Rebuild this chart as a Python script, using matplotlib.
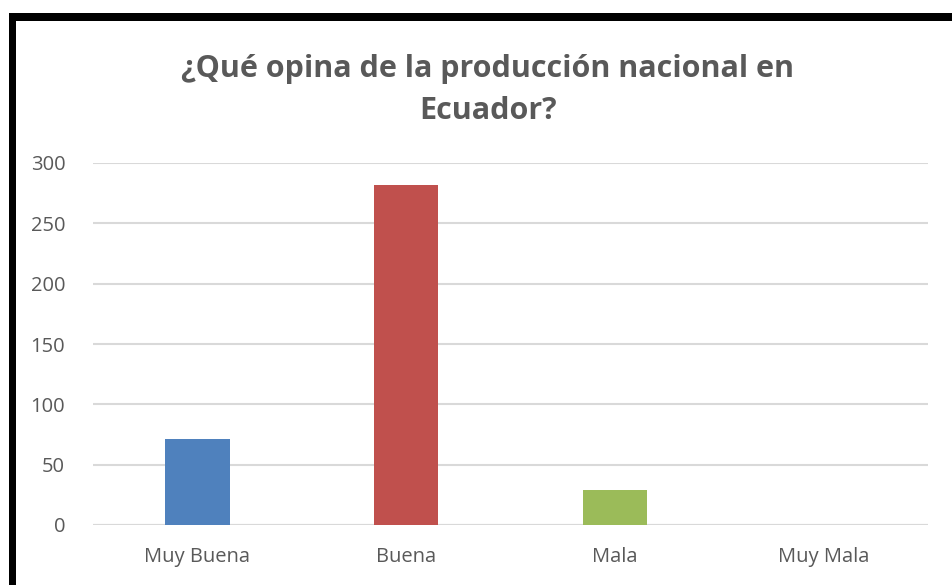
import matplotlib
matplotlib.use('Agg')
import matplotlib.pyplot as plt
from matplotlib.patches import Rectangle

categories = ['Muy Buena', 'Buena', 'Mala', 'Muy Mala']
values = [71, 282, 29, 0]
colors = ['#4f81bd', '#c0504d', '#9bbb59', '#8064a2']
yticks = [0, 50, 100, 150, 200, 250, 300]

plt.rcParams['font.family'] = ['Open Sans', 'DejaVu Sans']
W, H = 952, 585
fig = plt.figure(figsize=(W / 100, H / 100), dpi=100)
ax = fig.add_axes([93 / W, 1 - 525 / H, (928 - 93) / W, (525 - 163) / H])

x = range(len(categories))
ax.bar(x, values, width=0.31, color=colors, zorder=3)
ax.set_xlim(-0.5, 3.5)
ax.set_ylim(0, 300)
ax.set_yticks(yticks)
ax.set_xticks(list(x))
ax.set_xticklabels(categories)
ax.yaxis.grid(True, color='#d9d9d9', lw=1.5, zorder=0)
ax.axhline(0, color='#d9d9d9', lw=1.5, zorder=2)
for s in ax.spines.values():
    s.set_visible(False)
ax.tick_params(length=0, labelsize=14.5, colors='#595959')
ax.tick_params(axis='y', pad=20)
ax.tick_params(axis='x', pad=16)

fig.text(488 / W, 1 - 90 / H, '¿Qué opina de la producción nacional en\nEcuador?',
         ha='center', va='center', fontsize=22, fontweight='bold', color='#595959',
         linespacing=1.5)

# black frame (left and top edges)
fig.add_artist(Rectangle((9 / W, 0), 7 / W, 1 - 13 / H, transform=fig.transFigure,
                         color='black', lw=0))
fig.add_artist(Rectangle((9 / W, 1 - 21 / H), 1 - 9 / W, 8 / H, transform=fig.transFigure,
                         color='black', lw=0))

plt.savefig('out.png', dpi=100)
plt.close()
